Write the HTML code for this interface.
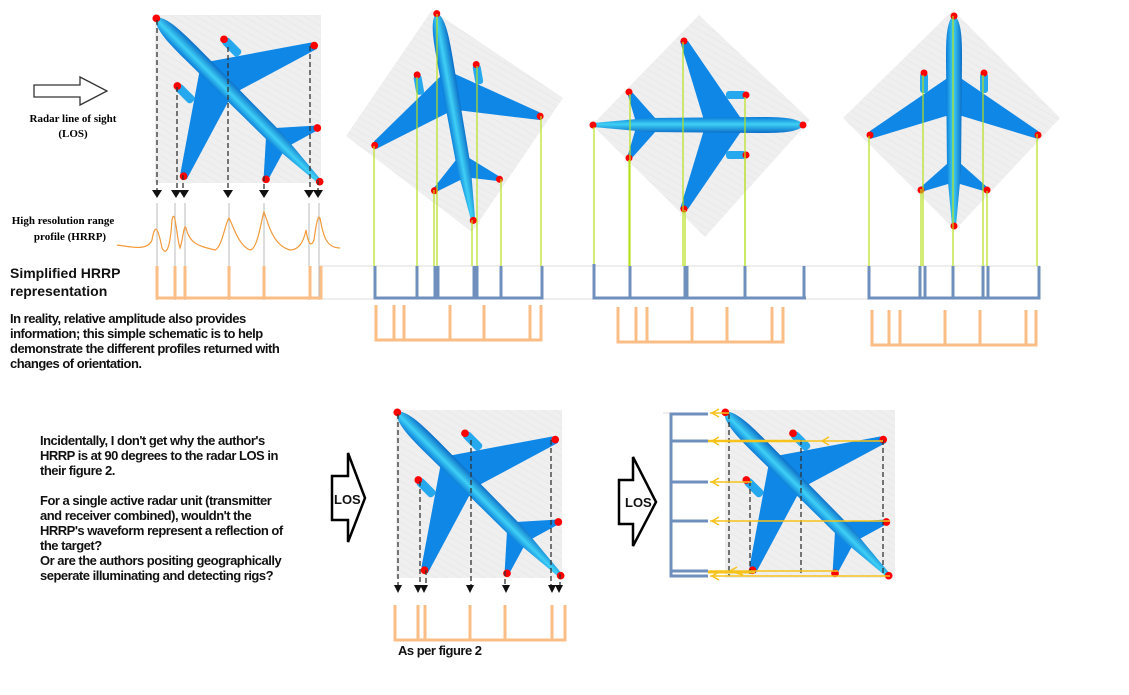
<!DOCTYPE html>
<html><head><meta charset="utf-8"><style>
html,body{margin:0;padding:0;background:#fff;}
svg{display:block}
text{font-family:"Liberation Sans",Arial,sans-serif;font-weight:bold;}
.s{font-family:"Liberation Serif",serif;}
.t{letter-spacing:-0.5px;}
</style></head><body>
<svg width="1129" height="695" viewBox="0 0 1129 695" xmlns="http://www.w3.org/2000/svg">
<defs>
<linearGradient id="fg" x1="0" x2="1" y1="0" y2="0">
<stop offset="0" stop-color="#0a7ad8"/><stop offset=".45" stop-color="#3fd0f5"/><stop offset="1" stop-color="#0a6cc8"/>
</linearGradient>
<g id="pl">
<polygon points="-8,-42 -84,10 -84,18 -8,-5 8,-5 84,18 84,10 8,-42" fill="#0f87e6"/>
<polygon points="-6,42 -33,66 -33,71 -6,63 6,63 33,71 33,66 6,42" fill="#0f87e6"/>
<rect x="-34" y="-48" width="8" height="20" rx="3" fill="#25a8ee"/>
<rect x="26" y="-48" width="8" height="20" rx="3" fill="#25a8ee"/>
<path d="M0,-106 C8,-100 8,-80 8,-60 L7,50 L2,105 L-2,105 L-7,50 L-8,-60 C-8,-80 -8,-100 0,-106Z" fill="url(#fg)"/>
<g fill="#f00">
<circle cx="0" cy="-105" r="3.5"/><circle cx="0" cy="105" r="3.5"/>
<circle cx="-84" cy="14" r="3.5"/><circle cx="84" cy="14" r="3.5"/>
<circle cx="-30" cy="-48" r="3.5"/><circle cx="30" cy="-48" r="3.5"/>
<circle cx="-33" cy="69" r="3.5"/><circle cx="33" cy="69" r="3.5"/>
</g>
</g>
<pattern id="ht" width="6" height="6" patternUnits="userSpaceOnUse" patternTransform="rotate(30)">
<rect width="6" height="6" fill="#efefef"/><line x1="0" y1="0" x2="6" y2="0" stroke="#e4e4e4"/>
</pattern>
</defs>

<rect x="155" y="15" width="166" height="168" fill="url(#ht)"/>
<polygon points="346,136 432,10 563,98 472,232" fill="url(#ht)"/>
<polygon points="592,125 699,15 810,120 705,237" fill="url(#ht)"/>
<polygon points="843,118 953,10 1060,118 955,230" fill="url(#ht)"/>
<rect x="396" y="410" width="166" height="168" fill="url(#ht)"/>
<rect x="725" y="410" width="170" height="168" fill="url(#ht)"/>

<use href="#pl" transform="translate(238,100) rotate(-45) scale(1.1)"/>
<use href="#pl" transform="translate(455,117) rotate(-10)"/>
<use href="#pl" transform="translate(698,125) rotate(90)"/>
<use href="#pl" transform="translate(954,121)"/>
<use href="#pl" transform="translate(479,494) rotate(-45) scale(1.1)"/>
<use href="#pl" transform="translate(807,494) rotate(-45) scale(1.1)"/>

<polygon points="34,85 80,85 80,77 107,91 80,105 80,97 34,97" fill="#fff" stroke="#333" stroke-width="1.3"/>
<text class="s" x="73" y="122" font-size="11" text-anchor="middle">Radar line of sight</text>
<text class="s" x="73" y="137" font-size="11" text-anchor="middle">(LOS)</text>
<text class="s" x="63" y="224" font-size="11" text-anchor="middle">High resolution range</text>
<text class="s" x="70" y="240" font-size="11" text-anchor="middle">profile (HRRP)</text>

<g stroke="#333" stroke-width="1.3" stroke-dasharray="5,3">
<line x1="157" y1="20" x2="157" y2="190"/><line x1="177" y1="87" x2="177" y2="190"/>
<line x1="183" y1="175" x2="183" y2="190"/><line x1="228" y1="47" x2="228" y2="190"/>
<line x1="264" y1="176" x2="264" y2="190"/><line x1="310" y1="46" x2="310" y2="190"/>
<line x1="318" y1="180" x2="318" y2="190"/>
</g>
<g fill="#111">
<polygon points="152,190 162,190 157,198"/><polygon points="171,190 181,190 176,198"/><polygon points="179,190 189,190 184,198"/>
<polygon points="223,190 233,190 228,198"/><polygon points="259,190 269,190 264,198"/><polygon points="304,190 314,190 309,198"/><polygon points="313,190 323,190 318,198"/>
</g>
<g stroke="#bbb" stroke-width="1">
<line x1="157" y1="203" x2="157" y2="300"/><line x1="175" y1="203" x2="175" y2="300"/><line x1="185" y1="203" x2="185" y2="300"/>
<line x1="229" y1="203" x2="229" y2="300"/><line x1="264" y1="203" x2="264" y2="300"/><line x1="309" y1="203" x2="309" y2="300"/><line x1="319" y1="203" x2="319" y2="300"/>
</g>
<path d="M117,245 C135,248 148,250 152,240 C155,222 158,228 162,248 C166,256 170,250 172,220 C175,205 177,240 180,248 C183,240 184,222 186,228 C190,245 200,246 215,250 C222,248 226,220 229,218 C233,225 238,245 250,250 C258,250 262,215 264,212 C268,222 272,245 290,250 C300,250 304,240 306,230 C308,243 311,248 314,240 C316,225 318,214 320,218 C323,235 326,248 340,248" fill="none" stroke="#f39a3a" stroke-width="1.2"/>

<text x="10" y="278" font-size="14" fill="#111">Simplified HRRP</text>
<text x="10" y="296" font-size="14" fill="#111">representation</text>
<line x1="320" y1="266" x2="1040" y2="266" stroke="#ddd"/>
<line x1="320" y1="299" x2="1040" y2="299" stroke="#ddd"/>
<g fill="none" stroke="#fbbd86" stroke-width="3">
<path d="M157,266V298H321V266 M175,266V298 M185,266V298 M229,266V298 M264,266V298 M310,266V298"/>
</g>

<g stroke="#b5e01a" stroke-width="1.2">
<line x1="374" y1="146" x2="374" y2="266"/><line x1="417" y1="77" x2="417" y2="266"/><line x1="434" y1="190" x2="434" y2="266"/>
<line x1="437" y1="14" x2="437" y2="266"/><line x1="472" y1="220" x2="472" y2="266"/><line x1="477" y1="66" x2="477" y2="266"/>
<line x1="501" y1="179" x2="501" y2="266"/><line x1="541" y1="116" x2="541" y2="266"/>
<line x1="594" y1="127" x2="594" y2="266"/><line x1="630" y1="94" x2="630" y2="266"/><line x1="629" y1="160" x2="629" y2="266"/>
<line x1="683" y1="42" x2="683" y2="266"/><line x1="685" y1="210" x2="685" y2="266"/><line x1="745" y1="97" x2="745" y2="266"/><line x1="745" y1="156" x2="745" y2="266"/>
<line x1="869" y1="136" x2="869" y2="266"/><line x1="921" y1="189" x2="921" y2="266"/><line x1="923" y1="75" x2="923" y2="266"/>
<line x1="953" y1="16" x2="953" y2="266"/><line x1="983" y1="75" x2="983" y2="266"/><line x1="987" y1="191" x2="987" y2="266"/><line x1="1037" y1="134" x2="1037" y2="266"/>
</g>
<g fill="none" stroke="#6f8fbd" stroke-width="3">
<path d="M375,266V298H542V266 M417,266V298 M435,266V298 M438,266V298 M474,266V298 M477,266V298 M501,266V298"/>
<path d="M594,264V298H806 M630,266V298 M685,266V298 M687,266V298 M745,266V298 M804,266V298"/>
<path d="M869,266V298H1039V266 M920,266V298 M925,266V298 M953,266V298 M983,266V298 M988,266V298"/>
</g>
<g fill="none" stroke="#fbbd86" stroke-width="3">
<path d="M376,305V340H541V305 M394,305V340 M404,305V340 M450,305V340 M484,305V340 M530,305V340"/>
<path d="M618,307V342H783V307 M636,307V342 M647,307V342 M692,307V342 M727,307V342 M772,307V342"/>
<path d="M872,310V345H1036V310 M889,310V345 M900,310V345 M945,310V345 M980,310V345 M1026,310V345"/>
</g>

<g font-size="13" fill="#111" class="t">
<text x="10" y="323">In reality, relative amplitude also provides</text>
<text x="10" y="338">information; this simple schematic is to help</text>
<text x="10" y="353">demonstrate the different profiles returned with</text>
<text x="10" y="368">changes of orientation.</text>
<text x="40" y="445">Incidentally, I don't get why the author's</text>
<text x="40" y="460">HRRP is at 90 degrees to the radar LOS in</text>
<text x="40" y="475">their figure 2.</text>
<text x="40" y="505">For a single active radar unit (transmitter</text>
<text x="40" y="520">and receiver combined), wouldn't the</text>
<text x="40" y="535">HRRP's waveform represent a reflection of</text>
<text x="40" y="550">the target?</text>
<text x="40" y="565">Or are the authors positing geographically</text>
<text x="40" y="580">seperate illuminating and detecting rigs?</text>
</g>

<polygon points="300,476 316,476 316,453 333,498 316,542 316,520 300,520" fill="#fff" stroke="#000" stroke-width="2.5" transform="translate(32,0)"/>
<text x="334" y="504" font-size="13" fill="#111" font-weight="normal">LOS</text>
<g stroke="#333" stroke-width="1.3" stroke-dasharray="5,3">
<line x1="398" y1="414" x2="398" y2="586"/><line x1="420" y1="481" x2="420" y2="586"/><line x1="426" y1="570" x2="426" y2="586"/>
<line x1="471" y1="440" x2="471" y2="586"/><line x1="505" y1="571" x2="505" y2="586"/><line x1="551" y1="440" x2="551" y2="586"/><line x1="560" y1="574" x2="560" y2="586"/>
</g>
<g fill="#111">
<polygon points="394,585 402,585 398,593"/><polygon points="414,585 422,585 418,593"/><polygon points="420,585 428,585 424,593"/>
<polygon points="466,585 474,585 470,593"/><polygon points="502,585 510,585 506,593"/><polygon points="548,585 556,585 552,593"/><polygon points="555,585 563,585 559,593"/>
</g>
<g fill="none" stroke="#fbbd86" stroke-width="3">
<path d="M395,605V640H565V605 M418,605V640 M425,605V640 M470,605V640 M505,605V640 M552,605V640"/>
</g>
<text x="398" y="655" font-size="13" fill="#111" class="t">As per figure 2</text>

<polygon points="619,480 633,480 633,457 656,502 633,546 633,524 619,524" fill="#fff" stroke="#000" stroke-width="2.5"/>
<text x="625" y="507" font-size="13" fill="#111" font-weight="normal">LOS</text>
<g stroke="#333" stroke-width="1.3" stroke-dasharray="5,3">
<line x1="729" y1="414" x2="729" y2="576"/><line x1="750" y1="481" x2="750" y2="576"/><line x1="801" y1="440" x2="801" y2="576"/><line x1="883" y1="440" x2="883" y2="576"/>
</g>
<line x1="663" y1="413" x2="708" y2="413" stroke="#ddd"/>
<g fill="none" stroke="#6f8fbd" stroke-width="3">
<path d="M708,414H671V576H708 M671,441H708 M671,482H708 M671,521H708 M671,571H708"/>
</g>
<g stroke="#f7c21a" stroke-width="1.5" fill="none">
<line x1="710" y1="413" x2="729" y2="413"/>
<line x1="710" y1="441" x2="883" y2="441"/><line x1="708" y1="441" x2="800" y2="441" stroke-width="2.5"/>
<line x1="710" y1="482" x2="752" y2="482"/>
<line x1="710" y1="521" x2="890" y2="521"/>
<line x1="710" y1="571" x2="838" y2="571"/><line x1="708" y1="572" x2="755" y2="572" stroke-width="3"/>
<line x1="710" y1="576" x2="890" y2="576"/>
<path d="M719,409 L712,413 L719,417 M719,437 L712,441 L719,445 M829,437 L822,441 L829,445 M719,478 L712,482 L719,486 M719,517 L712,521 L719,525 M737,567 L730,571 L743,575 M719,572 L712,576 L719,580"/>
</g>
</svg>
</body></html>
